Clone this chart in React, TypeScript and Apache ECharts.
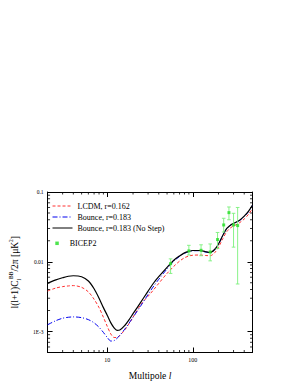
import React, { useEffect, useRef } from "react";
import * as echarts from "echarts";

const FONT = "'Liberation Serif', 'DejaVu Serif', serif";

// Multipole values where the theory curves are sampled
const ells = [2, 2.5, 3, 3.5, 4, 5, 6, 7, 8, 9, 10, 11, 12, 13, 14, 16, 18, 20, 25, 30, 35, 40, 50, 60, 70, 80, 90, 100, 120, 140, 160, 180, 200, 225, 250, 280, 300, 350, 400, 450, 500];

const lcdm = [0.0038, 0.0042, 0.0044, 0.0045, 0.00455, 0.0043, 0.0037, 0.0029, 0.0022, 0.0016, 0.00118, 0.00092, 0.00082, 0.00082, 0.00088, 0.00105, 0.0013, 0.0016, 0.0025, 0.0032, 0.0040, 0.0049, 0.0068, 0.0086, 0.0102, 0.0114, 0.0121, 0.0124, 0.0125, 0.0123, 0.0122, 0.0134, 0.0162, 0.0215, 0.027, 0.031, 0.0325, 0.036, 0.041, 0.048, 0.058];

const bounce = [0.00125, 0.00143, 0.00155, 0.0016, 0.00162, 0.00158, 0.00148, 0.00133, 0.00115, 0.00097, 0.00082, 0.00073, 0.00074, 0.0008, 0.00088, 0.00108, 0.00132, 0.0016, 0.0024, 0.0034, 0.0045, 0.0056, 0.0079, 0.0102, 0.0119, 0.0132, 0.014, 0.0144, 0.0144, 0.0138, 0.0135, 0.0148, 0.0178, 0.0238, 0.0297, 0.0337, 0.0352, 0.0387, 0.0446, 0.0525, 0.0645];

const noStep = [0.0049, 0.0055, 0.0059, 0.0062, 0.0063, 0.0061, 0.0053, 0.0041, 0.0030, 0.0022, 0.0017, 0.00133, 0.00113, 0.00104, 0.00105, 0.00122, 0.00148, 0.0018, 0.0027, 0.0038, 0.0050, 0.0061, 0.0083, 0.0105, 0.0121, 0.0134, 0.0141, 0.0145, 0.0145, 0.0140, 0.0136, 0.0150, 0.0180, 0.024, 0.030, 0.034, 0.0355, 0.039, 0.045, 0.053, 0.065];

// BICEP2 band powers
const bicepL = [55, 90, 125, 160, 195, 230, 265, 300, 335];
const bicepC = [0.0094, 0.0143, 0.0146, 0.0138, 0.0208, 0.0337, 0.0506, 0.0337, 0.033];
const bicepLo = [0.0068, 0.0125, 0.0122, 0.0103, 0.0155, 0.0267, 0.040, 0.0162, 0.0048];
const bicepHi = [0.011, 0.0172, 0.0175, 0.018, 0.0263, 0.042, 0.061, 0.0495, 0.060];

const seriesNames = ["LCDM, r=0.162", "Bounce, r=0.183", "Bounce, r=0.183 (No Step)", "BICEP2"];

const X_MIN = 2;
const X_MAX = 500;
const Y_MIN = 0.0005;
const Y_MAX = 0.1;

function minorTicks(lo: number, hi: number): number[] {
  const out: number[] = [];
  for (let e = -5; e <= 4; e++) {
    for (let m = 2; m <= 9; m++) {
      const v = m * Math.pow(10, e);
      if (v > lo * 1.0001 && v < hi * 0.9999) out.push(v);
    }
  }
  return out;
}

export default function App() {
  const ref = useRef<HTMLDivElement>(null);

  useEffect(() => {
    if (!ref.current) return;
    const chart = echarts.init(ref.current, undefined, { renderer: "svg" });

    const xMinor = minorTicks(X_MIN, X_MAX);
    const yMinor = minorTicks(Y_MIN, Y_MAX);

    const axisCommon = {
      type: "log" as const,
      logBase: 10,
      axisLine: { show: true, lineStyle: { color: "#000", width: 1 } },
      axisTick: { show: true, inside: true, length: 5, lineStyle: { color: "#000", width: 1 } },
      splitLine: { show: false },
    };

    const option: any = {
      animation: false,
      backgroundColor: "#fff",
      grid: { left: 42, right: 45.5, top: 192, bottom: 32.5 },
      legend: [
        {
          data: seriesNames.slice(0, 3),
          orient: "vertical",
          left: 52,
          top: 202,
          padding: 0,
          itemWidth: 20,
          itemHeight: 7,
          itemGap: 3,
          itemStyle: { opacity: 0 },
          lineStyle: { width: 1 },
          textStyle: { fontSize: 8, fontFamily: FONT, color: "#000" },
        },
        {
          data: [{ name: "BICEP2", icon: "path://M0,0h1v1h-1z" }],
          orient: "vertical",
          left: 55.3,
          top: 239.3,
          padding: 0,
          itemWidth: 15.4,
          itemHeight: 3.5,
          symbolKeepAspect: true,
          textStyle: { fontSize: 8, fontFamily: FONT, color: "#000" },
        },
      ],
      xAxis: [
        {
          ...axisCommon,
          min: X_MIN,
          max: X_MAX,
          position: "bottom",
          axisLabel: {
            show: true,
            showMinLabel: false,
            showMaxLabel: false,
            fontSize: 6,
            fontFamily: FONT,
            color: "#000",
            margin: 4,
            formatter: (v: number) => String(Math.round(v)),
          },
          name: "Multipole {i|l}",
          nameLocation: "middle",
          nameGap: 18,
          nameTextStyle: {
            fontSize: 9.5,
            fontFamily: FONT,
            color: "#000",
            rich: { i: { fontSize: 9.5, fontFamily: FONT, fontStyle: "italic", color: "#000" } },
          },
        },
        {
          ...axisCommon,
          min: X_MIN,
          max: X_MAX,
          position: "top",
          axisLabel: { show: false },
        },
      ],
      yAxis: [
        {
          ...axisCommon,
          min: Y_MIN,
          max: Y_MAX,
          position: "left",
          axisLabel: {
            show: true,
            showMinLabel: false,
            fontSize: 5.5,
            fontFamily: FONT,
            color: "#000",
            margin: 4,
            formatter: (v: number) => {
              const e = Math.round(Math.log10(v));
              if (e === -1) return "0.1";
              if (e === -2) return "0.01";
              return "1E" + e;
            },
          },
          name: "l(l+1)C{sub|l}{sup|BB}/2π [μK{sup|2}]",
          nameLocation: "middle",
          nameGap: 22,
          nameTextStyle: {
            fontSize: 9.5,
            fontFamily: FONT,
            color: "#000",
            lineHeight: 14,
            rich: {
              sup: { fontSize: 5.5, fontFamily: FONT, color: "#000", verticalAlign: "top", lineHeight: 14 },
              sub: { fontSize: 5.5, fontFamily: FONT, color: "#000", verticalAlign: "bottom", lineHeight: 14 },
            },
          },
        },
        {
          ...axisCommon,
          min: Y_MIN,
          max: Y_MAX,
          position: "right",
          axisLabel: { show: false },
        },
      ],
      series: [
        {
          name: seriesNames[0],
          type: "line",
          data: ells.map((l, i) => [l, lcdm[i]]),
          symbol: "none",
          smooth: 0.3,
          color: "#ff3030",
          lineStyle: { color: "#ff3030", width: 1, type: [3, 2] },
          z: 3,
        },
        {
          name: seriesNames[1],
          type: "line",
          data: ells.map((l, i) => [l, bounce[i]]),
          symbol: "none",
          smooth: 0.3,
          color: "#0000ee",
          lineStyle: { color: "#0000ee", width: 1, type: [5, 2, 1, 2] },
          z: 4,
        },
        {
          name: seriesNames[2],
          type: "line",
          data: ells.map((l, i) => [l, noStep[i]]),
          symbol: "none",
          smooth: 0.3,
          color: "#000",
          lineStyle: { color: "#000", width: 1.2 },
          z: 5,
        },
        {
          name: "BICEP2err",
          type: "custom",
          silent: true,
          z: 6,
          data: bicepL.map((l, i) => [l, bicepLo[i], bicepHi[i]]),
          encode: { x: 0, y: [1, 2] },
          renderItem: (_p: any, api: any) => {
            const x = api.value(0);
            const p1 = api.coord([x, api.value(1)]);
            const p2 = api.coord([x, api.value(2)]);
            const w = 1.8;
            const st = { stroke: "#7cf07c", lineWidth: 0.9 };
            return {
              type: "group",
              children: [
                { type: "line", shape: { x1: p1[0], y1: p1[1], x2: p2[0], y2: p2[1] }, style: st },
                { type: "line", shape: { x1: p1[0] - w, y1: p1[1], x2: p1[0] + w, y2: p1[1] }, style: st },
                { type: "line", shape: { x1: p2[0] - w, y1: p2[1], x2: p2[0] + w, y2: p2[1] }, style: st },
              ],
            };
          },
        },
        {
          name: seriesNames[3],
          type: "scatter",
          data: bicepL.map((l, i) => [l, bicepC[i]]),
          symbol: "rect",
          symbolSize: 3,
          color: "#22dd22",
          itemStyle: { color: "#22dd22" },
          z: 7,
        },
        {
          name: "xMinorTicks",
          type: "custom",
          silent: true,
          z: 2,
          data: xMinor.map((v) => [v, Y_MIN]),
          renderItem: (_p: any, api: any) => {
            const v = api.value(0);
            const b = api.coord([v, Y_MIN]);
            const t = api.coord([v, Y_MAX]);
            const st = { stroke: "#000", lineWidth: 0.8 };
            return {
              type: "group",
              children: [
                { type: "line", shape: { x1: b[0], y1: b[1], x2: b[0], y2: b[1] - 2.5 }, style: st },
                { type: "line", shape: { x1: t[0], y1: t[1], x2: t[0], y2: t[1] + 2.5 }, style: st },
              ],
            };
          },
        },
        {
          name: "yMinorTicks",
          type: "custom",
          silent: true,
          z: 2,
          data: yMinor.map((v) => [X_MIN, v]),
          renderItem: (_p: any, api: any) => {
            const v = api.value(1);
            const l = api.coord([X_MIN, v]);
            const r = api.coord([X_MAX, v]);
            const st = { stroke: "#000", lineWidth: 0.8 };
            return {
              type: "group",
              children: [
                { type: "line", shape: { x1: l[0], y1: l[1], x2: l[0] + 2.5, y2: l[1] }, style: st },
                { type: "line", shape: { x1: r[0], y1: r[1], x2: r[0] - 2.5, y2: r[1] }, style: st },
              ],
            };
          },
        },
      ],
    };

    chart.setOption(option);
    return () => chart.dispose();
  }, []);

  return (
    <div
      ref={ref}
      style={{ position: "fixed", left: 0, top: 0, width: 298, height: 385, background: "#fff" }}
    />
  );
}
